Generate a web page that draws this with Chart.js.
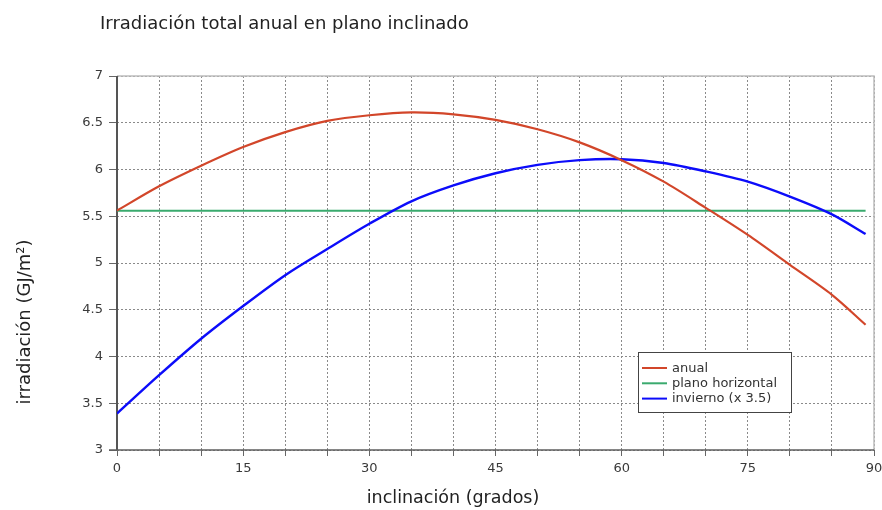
<!DOCTYPE html>
<html>
<head>
<meta charset="utf-8">
<script src="https://cdn.jsdelivr.net/npm/chart.js@4/dist/chart.umd.min.js"></script>
<style>
  html, body { margin: 0; padding: 0; background: #ffffff; }
  #wrap { width: 882px; height: 510px; }
</style>
</head>
<body>
<div id="wrap"><canvas id="c" width="882" height="510"></canvas></div>
<script>
const chartTitle = 'Irradiación total anual en plano inclinado';
const xTitle = 'inclinación (grados)';
const yTitle = 'irradiación (GJ/m²)';

const inclinacion = [0, 5, 10, 15, 20, 25, 30, 35, 40, 45, 50, 55, 60, 65, 70, 75, 80, 85, 89];
const anual = [5.56, 5.82, 6.04, 6.24, 6.40, 6.52, 6.58, 6.61, 6.59, 6.53, 6.43, 6.29, 6.10, 5.87, 5.59, 5.30, 4.98, 4.66, 4.34];
const planoHorizontal = [5.56, 5.56, 5.56, 5.56, 5.56, 5.56, 5.56, 5.56, 5.56, 5.56, 5.56, 5.56, 5.56, 5.56, 5.56, 5.56, 5.56, 5.56, 5.56];
const invierno = [3.39, 3.80, 4.19, 4.54, 4.87, 5.15, 5.42, 5.66, 5.83, 5.96, 6.05, 6.10, 6.11, 6.07, 5.98, 5.87, 5.71, 5.52, 5.31];

const seriesLabels = ['anual', 'plano horizontal', 'invierno (x 3.5)'];
const xTickLabels = [0, 15, 30, 45, 60, 75, 90];
const yTickLabels = [3, 3.5, 4, 4.5, 5, 5.5, 6, 6.5, 7];

const colors = ['#d2462a', '#3aaa6e', '#0c0cfa'];
const FONT = '"DejaVu Sans", sans-serif';

function pts(ys) { return inclinacion.map((x, i) => ({ x: x, y: ys[i] })); }

const decor = {
  id: 'decor',
  beforeDatasetsDraw(chart) {
    const { ctx, chartArea: a } = chart;
    ctx.save();
    ctx.strokeStyle = '#bdbdbd';
    ctx.lineWidth = 1.5;
    ctx.beginPath();
    ctx.moveTo(a.left, a.top);
    ctx.lineTo(a.right, a.top);
    ctx.lineTo(a.right, a.bottom);
    ctx.stroke();
    ctx.strokeStyle = '#555';
    ctx.lineWidth = 2;
    ctx.beginPath();
    ctx.moveTo(a.left, a.top);
    ctx.lineTo(a.left, a.bottom);
    ctx.stroke();
    ctx.strokeStyle = '#5e5e5e';
    ctx.lineWidth = 1.6;
    ctx.beginPath();
    ctx.moveTo(a.left - 8, a.bottom);
    ctx.lineTo(a.right, a.bottom);
    ctx.stroke();
    ctx.restore();
  },
  afterDraw(chart) {
    const { ctx } = chart;
    ctx.save();
    ctx.fillStyle = '#222';
    ctx.font = '18px ' + FONT;
    ctx.textAlign = 'left';
    ctx.textBaseline = 'alphabetic';
    ctx.fillText(chartTitle, 100, 29);
    ctx.font = '17.5px ' + FONT;
    ctx.textAlign = 'center';
    ctx.fillText(xTitle, 453, 503);
    ctx.save();
    ctx.font = '18px ' + FONT;
    ctx.translate(30, 322);
    ctx.rotate(-Math.PI / 2);
    ctx.textAlign = 'center';
    ctx.textBaseline = 'alphabetic';
    ctx.fillText(yTitle, 0, 0);
    ctx.restore();
    const bx = 638.5, by = 352.5, bw = 153, bh = 60;
    ctx.fillStyle = '#ffffff';
    ctx.fillRect(bx, by, bw, bh);
    ctx.strokeStyle = '#444';
    ctx.lineWidth = 1;
    ctx.strokeRect(bx, by, bw, bh);
    ctx.font = '13px ' + FONT;
    ctx.textAlign = 'left';
    ctx.textBaseline = 'middle';
    chart.data.datasets.forEach((ds, i) => {
      const y = 368 + i * 15.3;
      ctx.strokeStyle = ds.borderColor;
      ctx.lineWidth = 2;
      ctx.beginPath();
      ctx.moveTo(642, y);
      ctx.lineTo(667, y);
      ctx.stroke();
      ctx.fillStyle = '#333';
      ctx.fillText(ds.label, 672, y + 0.5);
    });
    ctx.restore();
  }
};

new Chart(document.getElementById('c'), {
  type: 'line',
  data: {
    datasets: [
      { label: seriesLabels[0], data: pts(anual), borderColor: colors[0], borderWidth: 2.2, order: 1 },
      { label: seriesLabels[1], data: pts(planoHorizontal), borderColor: colors[1], borderWidth: 2, order: 3 },
      { label: seriesLabels[2], data: pts(invierno), borderColor: colors[2], borderWidth: 2.4, order: 2 }
    ]
  },
  options: {
    responsive: false,
    animation: false,
    devicePixelRatio: 1,
    layout: { padding: { top: 76, right: 8, left: 0, bottom: 0 } },
    elements: {
      point: { radius: 0, hoverRadius: 0 },
      line: { tension: 0.3, fill: false, capBezierPoints: true }
    },
    plugins: { legend: { display: false }, title: { display: false }, tooltip: { enabled: false } },
    scales: {
      x: {
        type: 'linear',
        min: 0, max: 90,
        afterFit(s) { s.height = 60; s.paddingLeft = 0; s.paddingRight = 0; },
        afterBuildTicks(s) {
          const t = [];
          for (let v = 0; v <= 90; v += 5) t.push({ value: v });
          s.ticks = t;
        },
        ticks: {
          autoSkip: false, maxRotation: 0, padding: 5,
          color: '#3a3a3a', font: { family: FONT, size: 13 },
          callback: (v) => xTickLabels.includes(v) ? String(v) : ''
        },
        grid: {
          color: '#8a8a8a', lineWidth: 1, tickLength: 6, tickColor: '#666',
          tickBorderDash: [], drawOnChartArea: true
        },
        border: { display: false, dash: [2, 2] }
      },
      y: {
        type: 'linear',
        min: 3, max: 7,
        afterFit(s) { s.width = 117; s.paddingTop = 0; s.paddingBottom = 0; },
        afterBuildTicks(s) { s.ticks = yTickLabels.map(v => ({ value: v })); },
        ticks: {
          autoSkip: false, padding: 6,
          color: '#3a3a3a', font: { family: FONT, size: 13 },
          callback: (v) => String(v)
        },
        grid: {
          color: '#8a8a8a', lineWidth: 1, tickLength: 8, tickColor: '#666',
          tickBorderDash: []
        },
        border: { display: false, dash: [2, 2] }
      }
    }
  },
  plugins: [decor]
});
</script>
</body>
</html>
